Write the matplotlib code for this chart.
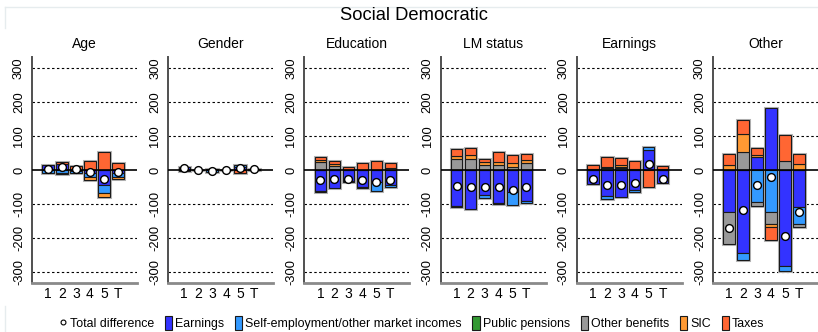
import matplotlib
matplotlib.use("Agg")
import matplotlib.pyplot as plt
from matplotlib.lines import Line2D
from matplotlib.patches import Patch
import numpy as np

PANELS = ["Age", "Gender", "Education", "LM status", "Earnings", "Other"]
GROUPS = ["1", "2", "3", "4", "5", "T"]
COMPONENTS = ["Earnings", "Self-employment/other market incomes", "Public pensions",
              "Other benefits", "SIC", "Taxes"]
COLORS = ["#3333ff", "#3399ff", "#339933", "#999999", "#ff9933", "#ff6633"]

# rows follow COMPONENTS, columns follow GROUPS
AGE = [
    [14, 18, -4, -10, -44, -8],
    [-10, -9, -6, -12, -24, -12],
    [0, 0, 0, 0, 0, 0],
    [0, 0, 0, 0, 0, 0],
    [0, -4, 0, -8, -11, -5],
    [0, 5, 12, 25, 52, 20],
]
GENDER = [
    [8, 1, 4, 1, 10, 4],
    [-2, -1, -7, -1, 6, -1],
    [0, 0, 0, 0, 0, 0],
    [0, 0, 0, 0, 0, 0],
    [0, 0, 0, 0, -1, 0],
    [0, 0, 0, 0, -9, 0],
]
EDUCATION = [
    [-63, -54, -32, -49, -34, -45],
    [-3, 4, -3, -3, -27, -6],
    [0, 0, 0, 0, 0, 0],
    [23, 8, 0, 0, 0, 5],
    [6, 7, 0, 0, 0, 0],
    [9, 8, 8, 22, 25, 17],
]
LM_STATUS = [
    [-105, -114, -73, -98, -65, -91],
    [-3, 0, -10, -3, -37, -7],
    [0, 0, 0, 0, 0, 0],
    [32, 31, 14, 16, 8, 20],
    [10, 12, 9, 8, 12, 10],
    [20, 21, 10, 28, 23, 18],
]
EARNINGS = [
    [-41, -76, -80, -60, 59, -39],
    [0, -8, 6, -4, 8, 0],
    [0, 0, 0, 0, 0, 0],
    [0, 5, 2, 4, 0, 0],
    [2, 5, 8, 0, 0, 4],
    [13, 29, 20, 22, -49, 8],
]
OTHER = [
    [-124, -244, 39, 183, -281, -110],
    [0, -20, -93, -123, -17, -49],
    [0, 0, 0, 0, 0, 0],
    [-93, 52, -14, -37, 27, -9],
    [14, 53, 5, -8, 0, 17],
    [32, 41, 20, -37, 76, 29],
]
PANEL_DATA = [AGE, GENDER, EDUCATION, LM_STATUS, EARNINGS, OTHER]

W, H = 818, 332
fig = plt.figure(figsize=(W / 100, H / 100), dpi=100)
plt.rcParams["font.family"] = ["Liberation Sans", "DejaVu Sans"]

# faint outer frame pieces
fig.add_artist(Line2D([5 / W, 1], [1 - 7 / H, 1 - 7 / H], color="#e6ecee", lw=1))
fig.add_artist(Line2D([5 / W, 5 / W], [1 - 7 / H, 1 - 28 / H], color="#e6ecee", lw=1))
fig.add_artist(Line2D([5 / W, 5 / W], [0, 1 - 306 / H], color="#e6ecee", lw=1))

fig.text(414 / W, 1 - 15 / H, "Social Democratic", ha="center", va="center", fontsize=13.2)

x = np.arange(len(GROUPS))
bar_w = 0.82
ax_w, ax_h = 105, 226
for i, (name, comp) in enumerate(zip(PANELS, PANEL_DATA)):
    left = 32 + 136.2 * i
    ax = fig.add_axes([left / W, 49 / H, ax_w / W, ax_h / H])
    comp = np.array(comp, dtype=float)

    for yv in (-300, -200, -100, 100, 200, 300):
        ax.axhline(yv, color="black", lw=0.8, ls=(0, (2.2, 2.2)), zorder=0)
    ax.axhline(0, color="black", lw=1.2, zorder=4)

    pos_tot = np.where(comp > 0, comp, 0).sum(axis=0)
    neg_tot = np.where(comp < 0, comp, 0).sum(axis=0)
    # light halo round each stack
    ax.bar(x, pos_tot, bar_w, color="none", edgecolor="#b5b5b5", lw=2.2, zorder=1)
    ax.bar(x, neg_tot, bar_w, color="none", edgecolor="#b5b5b5", lw=2.2, zorder=1)

    pos_bottom = np.zeros(len(GROUPS))
    neg_bottom = np.zeros(len(GROUPS))
    for k, row in enumerate(comp):
        up = np.where(row > 0, row, 0)
        dn = np.where(row < 0, row, 0)
        m = up != 0
        ax.bar(x[m], up[m], bar_w, bottom=pos_bottom[m], color=COLORS[k],
               edgecolor="#1a1a1a", lw=0.8, zorder=2)
        m = dn != 0
        ax.bar(x[m], dn[m], bar_w, bottom=neg_bottom[m], color=COLORS[k],
               edgecolor="#1a1a1a", lw=0.8, zorder=2)
        pos_bottom += up
        neg_bottom += dn

    totals = comp.sum(axis=0)
    ax.plot(x, totals, "o", mfc="white", mec="black", ms=5.6, mew=1.0, zorder=5)

    ax.set_xlim(-1.15, 6.37)
    ax.set_ylim(-332, 332)
    ax.set_xticks(x, GROUPS, fontsize=10)
    ax.set_yticks([-300, -200, -100, 0, 100, 200, 300])
    ax.set_yticklabels(["-300", "-200", "-100", "0", "100", "200", "300"],
                       rotation=90, va="center", fontsize=9.3)
    ax.tick_params(axis="both", length=0)
    ax.tick_params(axis="y", pad=5)
    ax.tick_params(axis="x", pad=3)
    ax.spines["top"].set_visible(False)
    ax.spines["right"].set_visible(False)
    ax.spines["left"].set_color("#505050")
    ax.spines["left"].set_linewidth(1.4)
    ax.spines["bottom"].set_color("#8a8a8a")
    ax.spines["bottom"].set_linewidth(2)
    ax.patch.set_visible(False)
    fig.text((left + ax_w / 2) / W, 1 - 44 / H, name, ha="center", va="center", fontsize=10)

handles = [Line2D([], [], ls="none", marker="o", mfc="white", mec="black", ms=3.5, mew=0.8)]
handles += [Patch(facecolor=c, edgecolor="#1a1a1a", lw=0.8) for c in COLORS]
fig.legend(handles, ["Total difference"] + COMPONENTS, loc="center",
           bbox_to_anchor=(412 / W, 1 - 323 / H), ncol=7, frameon=False, fontsize=8.9,
           handlelength=0.6, handleheight=1.3, handletextpad=0.25, columnspacing=0.85)

fig.savefig("out.png", dpi=100)
